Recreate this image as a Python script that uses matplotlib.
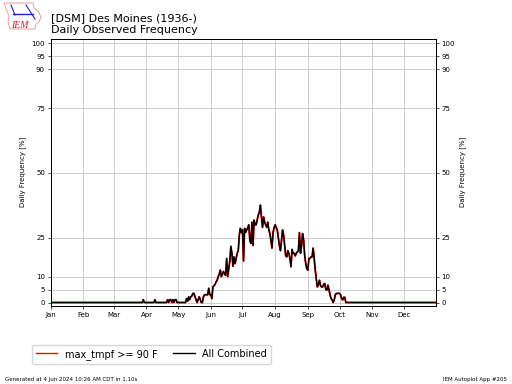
import matplotlib
matplotlib.use("Agg")
import matplotlib.pyplot as plt

# daily frequency [%], one list per month
jan = [0] * 31
feb = [0] * 29
mar = [0] * 28 + [1.1, 0, 0]
apr = [0, 0, 0, 0, 0, 0, 0, 0, 1.1, 0, 0, 0, 0, 0, 0, 0, 0, 0, 0, 0,
       1.1, 0, 1.1, 1.1, 0, 1.1, 0, 1.1, 1.1, 0]
may = [0, 0, 0, 0, 0, 0, 0, 0, 1.5, 0.5, 2.2, 1.1, 2.2, 2.5, 3.5, 3.5, 2.2, 1.1, 0, 1.1,
       2.2, 1.1, 0, 0, 2.2, 3, 3, 3, 3, 5.5, 3]
jun = [3, 1.5, 6, 6.5, 7, 8, 8.6, 10, 11, 12.5, 10, 11, 12, 11, 10.5, 17, 10, 13, 16, 21.7,
       19, 14, 17.6, 15, 17, 19, 20, 26, 28.6, 27]
jul = [28, 16, 28.6, 27, 28, 29, 30, 24, 22.8, 31, 22, 31.8, 30, 30, 32, 33.7, 35, 37.6, 33, 29,
       33, 31, 30, 29, 31, 28, 26.6, 24, 21, 27, 29]
aug = [30, 29, 28, 25, 22, 20, 24, 28, 26, 22, 18, 17.6, 20, 19, 17, 13.8, 20.5, 19, 19, 18,
       19, 19.5, 20, 27, 19, 22, 26.6, 24, 18, 15, 13]
sep = [12.5, 17, 17, 17.6, 17.6, 21, 17, 12.5, 9, 6, 7, 8.6, 6.5, 6, 6, 7, 7.3, 5, 4.8, 6.7,
       5, 3, 1.5, 1, 0, 1, 3, 3.5, 3.5, 3.5]
oct_ = [3.5, 3, 1.5, 1, 2, 2, 0] + [0] * 24
nov = [0] * 30
dec = [0] * 31

freq = jan + feb + mar + apr + may + jun + jul + aug + sep + oct_ + nov + dec
days = list(range(1, len(freq) + 1))

month_starts = [1, 32, 61, 92, 122, 153, 183, 214, 245, 275, 306, 336]
month_labels = ["Jan", "Feb", "Mar", "Apr", "May", "Jun", "Jul", "Aug", "Sep", "Oct", "Nov", "Dec"]
y_ticks = [0, 5, 10, 25, 50, 75, 90, 95, 100]

# iowa outline and the blue mark of the logo, in logo units
iowa_x = [4, 33, 34, 38, 41, 39, 36, 35, 10, 8, 9, 6, 4]
iowa_y = [33, 33, 28, 25, 19, 14, 12, 7, 7, 14, 20, 27, 33]
bar_x = [13, 33]
bar_y = [22, 22]
left_x = [11, 15]
left_y = [31, 21]
right_x = [26, 35]
right_y = [31, 17]

fig = plt.figure(figsize=(5.12, 3.84), dpi=100)
ax = fig.add_axes([50.5 / 512, 1 - 306 / 384, 385 / 512, 267.5 / 384])

ax.plot(days, freq, color="red", lw=1.3, label="max_tmpf >= 90 F")
ax.plot(days, freq, color="black", lw=1.0, label="All Combined")

ax.set_xlim(1, 366)
ax.set_ylim(-1.35, 101.9)
ax.set_xticks(month_starts)
ax.set_xticklabels(month_labels)
ax.set_yticks(y_ticks)
ax.grid(True, color="#c4c4c4", lw=0.6)
ax.tick_params(labelsize=5, length=2, width=0.5, pad=2)
ax.set_ylabel("Daily Frequency [%]", fontsize=5, labelpad=0)
ax.yaxis.set_label_coords(-24 / 385, 0.5)
for s in ax.spines.values():
    s.set_linewidth(0.7)

ax2 = ax.twinx()
ax2.set_ylim(ax.get_ylim())
ax2.set_yticks(y_ticks)
ax2.tick_params(labelsize=5, length=2, width=0.5, pad=2)
ax2.set_ylabel("Daily Frequency [%]", fontsize=5, labelpad=0)
ax2.yaxis.set_label_coords(1 + 24 / 385, 0.5)
for s in ax2.spines.values():
    s.set_linewidth(0.7)

fig.text(51 / 512, 1 - 21.5 / 384, "[DSM] Des Moines (1936-)", fontsize=8, va="baseline")
fig.text(51 / 512, 1 - 33 / 384, "Daily Observed Frequency", fontsize=8, va="baseline")

leg = ax.legend(loc="upper left", bbox_to_anchor=(32 / 512, 1 - 345 / 384), bbox_transform=fig.transFigure,
                ncol=2, fontsize=7, frameon=True, borderaxespad=0, handlelength=2.2, columnspacing=1.6)
for h in leg.get_lines():
    h.set_linewidth(1.0)

fig.text(5 / 512, 1 - 381 / 384, "Generated at 4 Jun 2024 10:26 AM CDT in 1.10s", fontsize=4, va="baseline")
fig.text(507 / 512, 1 - 381 / 384, "IEM Autoplot App #205", fontsize=4, va="baseline", ha="right")

logo = fig.add_axes([0, 1 - 36 / 384, 50 / 512, 36 / 384])
logo.set_xlim(0, 50)
logo.set_ylim(0, 36)
logo.axis("off")
logo.fill(iowa_x, iowa_y, facecolor="white", edgecolor="#e8a0a0", lw=0.7)
logo.plot(bar_x, bar_y, color="#2020d0", lw=1.0)
logo.plot(left_x, left_y, color="#2020d0", lw=0.8)
logo.plot(right_x, right_y, color="#2020d0", lw=0.8)
logo.text(11, 8, "IEM", color="#d02020", fontsize=7, family="Liberation Serif", style="italic")

fig.savefig("out.png", dpi=100)
